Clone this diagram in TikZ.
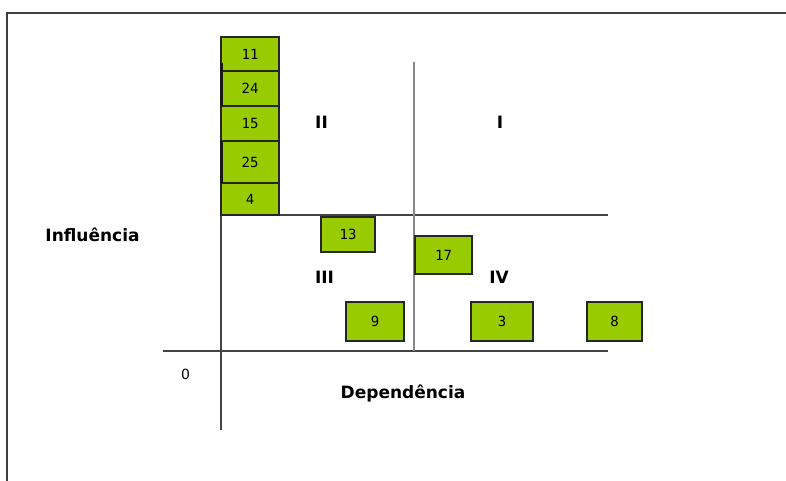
\documentclass[tikz,border=0pt]{standalone}
\usepackage{fontspec}
\setmainfont{DejaVu Sans}
\newfontfamily\numfont{DejaVu Sans Mono}
\definecolor{boxgreen}{HTML}{99CC00}
\definecolor{linegray}{HTML}{444444}
\definecolor{midgray}{HTML}{888888}
\begin{document}
\begin{tikzpicture}[x=1pt,y=-1pt,
  cell/.style={draw=black!85, line width=1.2pt, fill=boxgreen, inner sep=0pt, outer sep=0pt,
    font=\numfont\fontsize{14}{14}\selectfont},
  quad/.style={font=\bfseries\fontsize{17}{20}\selectfont, anchor=base, inner sep=0pt},
  axisline/.style={draw=linegray, line width=1.4pt},
  frameline/.style={draw=black!75, line width=2pt}]
\useasboundingbox (0,0) rectangle (786,481);
% frame
\coordinate (fbl) at (7,481);
\coordinate (ftl) at (7,13);
\coordinate (ftr) at (786,13);
\draw[frameline] (fbl) -- (ftl) -- (ftr);
% axes
\coordinate (hu1) at (221,215);
\coordinate (hu2) at (608,215);
\coordinate (hl1) at (163,351);
\coordinate (hl2) at (608,351);
\coordinate (vm1) at (414,62);
\coordinate (vm2) at (414,351);
\coordinate (va1) at (221,215);
\coordinate (va2) at (221,430);
\draw[axisline] (hu1) -- (hu2);
\draw[axisline] (hl1) -- (hl2);
\draw[draw=midgray, line width=1.6pt] (vm1) -- (vm2);
\draw[axisline] (va1) -- (va2);
% boxes
\node[cell, minimum width=58pt, minimum height=34pt] (b11) at (250,54) {11};
\node[cell, minimum width=58pt, minimum height=35pt] (b24) at (250,88.5) {24};
\node[cell, minimum width=58pt, minimum height=35pt] (b15) at (250,123.5) {15};
\node[cell, minimum width=58pt, minimum height=42pt] (b25) at (250,162) {25};
\node[cell, minimum width=58pt, minimum height=32pt] (b4) at (250,199) {4};
\node[cell, minimum width=54pt, minimum height=35pt] (b13) at (348,234.5) {13};
\node[cell, minimum width=57pt, minimum height=38pt] (b17) at (443.5,255) {17};
\node[cell, minimum width=58pt, minimum height=39pt] (b9) at (375,321.5) {9};
\node[cell, minimum width=62pt, minimum height=39pt] (b3) at (502,321.5) {3};
\node[cell, minimum width=55pt, minimum height=39pt] (b8) at (614.5,321.5) {8};
% thicker left edges
\coordinate (t1) at (221,63);
\draw[black!90, line width=3pt] (t1) -- (b24.south west);
\draw[black!90, line width=3pt] (b25.north west) -- (b25.south west);
% quadrant labels
\node[quad] (qII) at (321.5,129) {II};
\node[quad] (qI) at (500,129) {I};
\node[quad] (qIII) at (324.5,283) {III};
\node[quad] (qIV) at (499,283) {IV};
% axis labels
\node[quad] (infl) at (92.5,241) {Influência};
\node[quad] (dep) at (403,398) {Dependência};
\node[anchor=base, inner sep=0pt, font=\fontsize{14}{14}\selectfont] (zero) at (185.5,379) {0};
\end{tikzpicture}
\end{document}
